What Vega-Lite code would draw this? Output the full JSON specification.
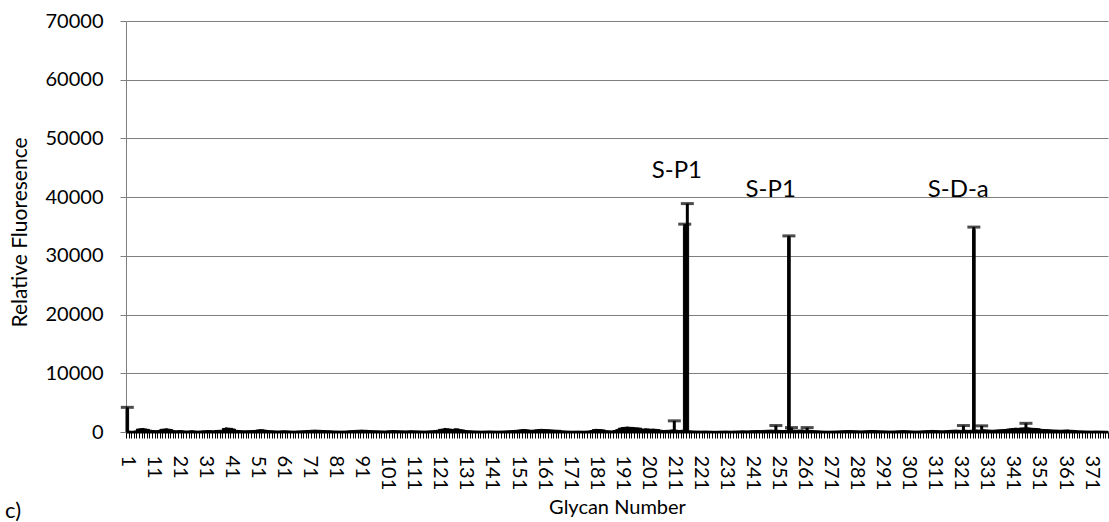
{
"$schema":"https://vega.github.io/schema/vega-lite/v6.json",
"width":982,"height":411,
"autosize":{"type":"none"},
"padding":{"left":126,"top":21,"right":1,"bottom":90},
"background":"white",
"title":{"text":"c)","orient":"bottom","anchor":"start","frame":"bounds","font":"Lato","fontSize":22,"fontWeight":"normal","color":"black","offset":-16,"dx":-4},
"config":{"view":{"stroke":null},"font":"Lato"},
"datasets":{
"main":[
{"g":1,"v":3900,"e":4200},{"g":2,"v":150},{"g":3,"v":120},{"g":4,"v":180},{"g":5,"v":500},{"g":6,"v":550},{"g":7,"v":600},{"g":8,"v":520},{"g":9,"v":450},{"g":10,"v":300},
{"g":11,"v":250},{"g":12,"v":220},{"g":13,"v":260},{"g":14,"v":450},{"g":15,"v":500},{"g":16,"v":550},{"g":17,"v":480},{"g":18,"v":400},{"g":19,"v":220},{"g":20,"v":200},
{"g":21,"v":250},{"g":22,"v":230},{"g":23,"v":180},{"g":24,"v":160},{"g":25,"v":200},{"g":26,"v":220},{"g":27,"v":180},{"g":28,"v":150},{"g":29,"v":170},{"g":30,"v":200},
{"g":31,"v":220},{"g":32,"v":250},{"g":33,"v":230},{"g":34,"v":200},{"g":35,"v":260},{"g":36,"v":280},{"g":37,"v":300},{"g":38,"v":600},{"g":39,"v":700},{"g":40,"v":650},
{"g":41,"v":620},{"g":42,"v":500},{"g":43,"v":280},{"g":44,"v":250},{"g":45,"v":220},{"g":46,"v":200},{"g":47,"v":210},{"g":48,"v":230},{"g":49,"v":250},{"g":50,"v":270},
{"g":51,"v":350},{"g":52,"v":400},{"g":53,"v":380},{"g":54,"v":320},{"g":55,"v":250},{"g":56,"v":220},{"g":57,"v":200},{"g":58,"v":180},{"g":59,"v":170},{"g":60,"v":190},
{"g":61,"v":210},{"g":62,"v":200},{"g":63,"v":180},{"g":64,"v":160},{"g":65,"v":150},{"g":66,"v":170},{"g":67,"v":190},{"g":68,"v":200},{"g":69,"v":220},{"g":70,"v":250},
{"g":71,"v":270},{"g":72,"v":300},{"g":73,"v":320},{"g":74,"v":300},{"g":75,"v":280},{"g":76,"v":260},{"g":77,"v":240},{"g":78,"v":220},{"g":79,"v":200},{"g":80,"v":180},
{"g":81,"v":170},{"g":82,"v":160},{"g":83,"v":150},{"g":84,"v":160},{"g":85,"v":170},{"g":86,"v":200},{"g":87,"v":230},{"g":88,"v":260},{"g":89,"v":280},{"g":90,"v":300},
{"g":91,"v":320},{"g":92,"v":300},{"g":93,"v":280},{"g":94,"v":250},{"g":95,"v":230},{"g":96,"v":210},{"g":97,"v":200},{"g":98,"v":190},{"g":99,"v":180},{"g":100,"v":170},
{"g":101,"v":200},{"g":102,"v":220},{"g":103,"v":250},{"g":104,"v":230},{"g":105,"v":210},{"g":106,"v":200},{"g":107,"v":190},{"g":108,"v":180},{"g":109,"v":200},{"g":110,"v":220},
{"g":111,"v":200},{"g":112,"v":190},{"g":113,"v":180},{"g":114,"v":170},{"g":115,"v":160},{"g":116,"v":170},{"g":117,"v":190},{"g":118,"v":210},{"g":119,"v":250},{"g":120,"v":300},
{"g":121,"v":450},{"g":122,"v":500},{"g":123,"v":600},{"g":124,"v":550},{"g":125,"v":500},{"g":126,"v":450},{"g":127,"v":550},{"g":128,"v":520},{"g":129,"v":400},{"g":130,"v":350},
{"g":131,"v":250},{"g":132,"v":220},{"g":133,"v":200},{"g":134,"v":180},{"g":135,"v":170},{"g":136,"v":160},{"g":137,"v":150},{"g":138,"v":160},{"g":139,"v":170},{"g":140,"v":180},
{"g":141,"v":170},{"g":142,"v":160},{"g":143,"v":150},{"g":144,"v":160},{"g":145,"v":170},{"g":146,"v":180},{"g":147,"v":200},{"g":148,"v":220},{"g":149,"v":250},{"g":150,"v":280},
{"g":151,"v":320},{"g":152,"v":380},{"g":153,"v":420},{"g":154,"v":400},{"g":155,"v":350},{"g":156,"v":300},{"g":157,"v":320},{"g":158,"v":380},{"g":159,"v":420},{"g":160,"v":450},
{"g":161,"v":420},{"g":162,"v":400},{"g":163,"v":380},{"g":164,"v":350},{"g":165,"v":320},{"g":166,"v":300},{"g":167,"v":280},{"g":168,"v":200},{"g":169,"v":180},{"g":170,"v":160},
{"g":171,"v":150},{"g":172,"v":140},{"g":173,"v":150},{"g":174,"v":160},{"g":175,"v":150},{"g":176,"v":140},{"g":177,"v":150},{"g":178,"v":170},{"g":179,"v":250},{"g":180,"v":400},
{"g":181,"v":450},{"g":182,"v":420},{"g":183,"v":400},{"g":184,"v":350},{"g":185,"v":220},{"g":186,"v":200},{"g":187,"v":180},{"g":188,"v":250},{"g":189,"v":400},{"g":190,"v":650},
{"g":191,"v":750},{"g":192,"v":800},{"g":193,"v":850},{"g":194,"v":800},{"g":195,"v":780},{"g":196,"v":720},{"g":197,"v":700},{"g":198,"v":650},{"g":199,"v":500},{"g":200,"v":550},
{"g":201,"v":520},{"g":202,"v":480},{"g":203,"v":500},{"g":204,"v":450},{"g":205,"v":400},{"g":206,"v":300},{"g":207,"v":250},{"g":208,"v":280},{"g":209,"v":300},{"g":210,"v":350},
{"g":211,"v":400,"e":1900},{"g":212,"v":300},{"g":213,"v":250},{"g":214,"v":300},{"g":215,"v":35000,"e":35400},{"g":216,"v":35300,"e":38900},{"g":217,"v":200},{"g":218,"v":180},{"g":219,"v":170},{"g":220,"v":160},
{"g":221,"v":150},{"g":222,"v":160},{"g":223,"v":170},{"g":224,"v":150},{"g":225,"v":140},{"g":226,"v":130},{"g":227,"v":120},{"g":228,"v":140},{"g":229,"v":150},{"g":230,"v":160},
{"g":231,"v":170},{"g":232,"v":150},{"g":233,"v":140},{"g":234,"v":160},{"g":235,"v":170},{"g":236,"v":180},{"g":237,"v":200},{"g":238,"v":190},{"g":239,"v":180},{"g":240,"v":200},
{"g":241,"v":220},{"g":242,"v":240},{"g":243,"v":250},{"g":244,"v":230},{"g":245,"v":260},{"g":246,"v":280},{"g":247,"v":300},{"g":248,"v":320},{"g":249,"v":300},{"g":250,"v":320,"e":1100},
{"g":251,"v":280},{"g":252,"v":260},{"g":253,"v":250},{"g":254,"v":300},{"g":255,"v":33100,"e":33400},{"g":256,"v":350,"e":750},{"g":257,"v":320},{"g":258,"v":300},{"g":259,"v":330},{"g":260,"v":350},
{"g":261,"v":300},{"g":262,"v":350,"e":750},{"g":263,"v":280},{"g":264,"v":250},{"g":265,"v":220},{"g":266,"v":200},{"g":267,"v":180},{"g":268,"v":160},{"g":269,"v":150},{"g":270,"v":140},
{"g":271,"v":150},{"g":272,"v":160},{"g":273,"v":170},{"g":274,"v":180},{"g":275,"v":200},{"g":276,"v":220},{"g":277,"v":240},{"g":278,"v":250},{"g":279,"v":240},{"g":280,"v":220},
{"g":281,"v":200},{"g":282,"v":190},{"g":283,"v":180},{"g":284,"v":200},{"g":285,"v":220},{"g":286,"v":250},{"g":287,"v":260},{"g":288,"v":240},{"g":289,"v":220},{"g":290,"v":200},
{"g":291,"v":190},{"g":292,"v":180},{"g":293,"v":170},{"g":294,"v":160},{"g":295,"v":170},{"g":296,"v":180},{"g":297,"v":200},{"g":298,"v":220},{"g":299,"v":240},{"g":300,"v":220},
{"g":301,"v":200},{"g":302,"v":180},{"g":303,"v":170},{"g":304,"v":160},{"g":305,"v":170},{"g":306,"v":190},{"g":307,"v":210},{"g":308,"v":230},{"g":309,"v":250},{"g":310,"v":270},
{"g":311,"v":250},{"g":312,"v":230},{"g":313,"v":210},{"g":314,"v":200},{"g":315,"v":220},{"g":316,"v":250},{"g":317,"v":280},{"g":318,"v":300},{"g":319,"v":320},{"g":320,"v":300},
{"g":321,"v":280},{"g":322,"v":350,"e":1100},{"g":323,"v":300},{"g":324,"v":280},{"g":325,"v":300},{"g":326,"v":34500,"e":34900},{"g":327,"v":350},{"g":328,"v":320},{"g":329,"v":400,"e":1050},{"g":330,"v":380},
{"g":331,"v":350},{"g":332,"v":330},{"g":333,"v":300},{"g":334,"v":320},{"g":335,"v":350},{"g":336,"v":380},{"g":337,"v":400},{"g":338,"v":420},{"g":339,"v":500},{"g":340,"v":550},
{"g":341,"v":600},{"g":342,"v":650},{"g":343,"v":620},{"g":344,"v":680},{"g":345,"v":700},{"g":346,"v":750,"e":1480},{"g":347,"v":700},{"g":348,"v":650},{"g":349,"v":620},{"g":350,"v":600},
{"g":351,"v":550},{"g":352,"v":450},{"g":353,"v":420},{"g":354,"v":400},{"g":355,"v":380},{"g":356,"v":350},{"g":357,"v":330},{"g":358,"v":320},{"g":359,"v":300},{"g":360,"v":310},
{"g":361,"v":330},{"g":362,"v":350},{"g":363,"v":300},{"g":364,"v":280},{"g":365,"v":250},{"g":366,"v":200},{"g":367,"v":190},{"g":368,"v":180},{"g":369,"v":170},{"g":370,"v":160},
{"g":371,"v":150},{"g":372,"v":160},{"g":373,"v":170},{"g":374,"v":160},{"g":375,"v":150},{"g":376,"v":140},{"g":377,"v":130}
],
"notes":[
{"g":212,"y":43260,"t":"S-P1"},
{"g":248,"y":40075,"t":"S-P1"},
{"g":320,"y":40075,"t":"S-D-a"}
]
},
"data":{"name":"main"},
"encoding":{
"x":{"field":"g","type":"ordinal","sort":"ascending",
"scale":{"type":"band","paddingInner":0,"paddingOuter":0},
"axis":{"labelExpr":"(datum.value - 1) % 10 == 0 ? datum.label : ''","labelAngle":90,"labelAlign":"left","labelBaseline":"middle","labelPadding":17,"labelOverlap":false,"labelFont":"Lato","labelFontSize":20,"labelColor":"black","tickSize":6,"tickColor":"black","tickBand":"extent","domainColor":"black","domainWidth":2,"grid":false,"title":"Glycan Number","titleFont":"Lato","titleFontSize":20,"titleFontWeight":"normal","titleColor":"black","titleY":81,"titleBaseline":"alphabetic"}},
"y":{"field":"v","type":"quantitative",
"scale":{"domain":[0,70000],"nice":false,"zero":true},
"axis":{"values":[0,10000,20000,30000,40000,50000,60000,70000],"format":"d","labelFont":"Lato","labelFontSize":20,"labelColor":"black","labelPadding":17,"tickSize":6,"tickColor":"#7f7f7f","domainColor":"#7f7f7f","gridColor":"#7f7f7f","grid":true,"title":"Relative Fluoresence","titleFont":"Lato","titleFontSize":21,"titleFontWeight":"normal","titleColor":"black","titleAngle":-90,"titleAlign":"center","titleBaseline":"alphabetic","titleX":-100,"titleY":211}}
},
"layer":[
{"mark":{"type":"bar","color":"black","stroke":"black","strokeWidth":1}},
{"transform":[{"filter":"isValid(datum.e)"}],
 "mark":{"type":"rule","color":"black","strokeWidth":3},
 "encoding":{"y2":{"field":"e"}}},
{"transform":[{"filter":"isValid(datum.e)"}],
 "mark":{"type":"tick","color":"black","size":13,"thickness":3},
 "encoding":{"y":{"field":"e","type":"quantitative"}}},
{"data":{"name":"notes"},
 "mark":{"type":"text","font":"Lato","fontSize":24,"color":"black","align":"center","baseline":"alphabetic"},
 "encoding":{"y":{"field":"y","type":"quantitative"},"text":{"field":"t"}}}
]
}
